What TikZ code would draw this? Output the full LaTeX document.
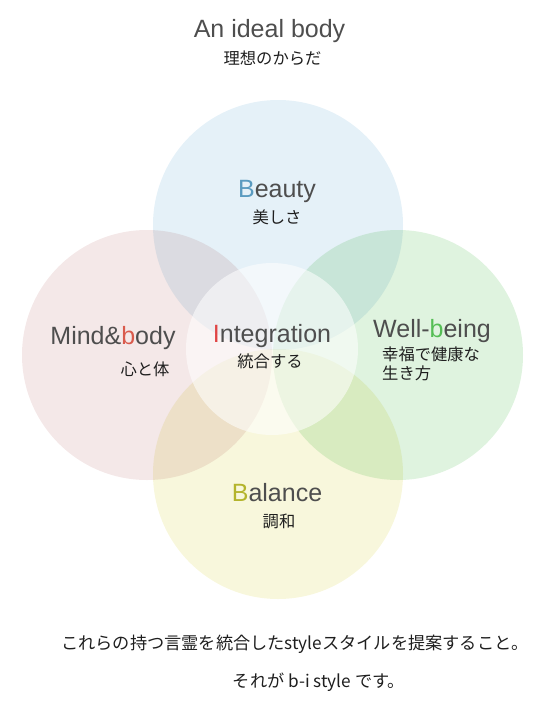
\documentclass[tikz,border=0pt]{standalone}
\usepackage{fontspec}
\setmainfont{Liberation Sans}
\newfontfamily\jpfont{Noto Sans CJK JP}
\usepackage{xcolor}
\usepackage{tikz}
\definecolor{beautyC}{HTML}{E5F1F8}
\definecolor{mindC}{HTML}{F4E8E8}
\definecolor{wellC}{HTML}{DFF3DF}
\definecolor{balC}{HTML}{F8F7DC}
\definecolor{ink}{HTML}{4E4E4E}
\definecolor{jink}{HTML}{1E1E1E}
\definecolor{accBeauty}{HTML}{5A9BC0}
\definecolor{accMind}{HTML}{D95A4C}
\definecolor{accInteg}{HTML}{E04444}
\definecolor{accWell}{HTML}{55BE55}
\definecolor{accBal}{HTML}{B4B42C}
\tikzset{
  petal/.style={blend mode=multiply},
  enlabel/.style={font=\fontsize{25}{30}\selectfont,text=ink,anchor=base,inner sep=0pt},
  jplabel/.style={font=\jpfont\fontsize{16.3}{19}\selectfont,text=jink,inner sep=0pt},
  jpnote/.style={font=\jpfont\fontsize{17.2}{20}\selectfont,text=jink,inner sep=0pt}
}
\newcommand{\petals}{%
  \fill[petal,beautyC] (278,225) circle[radius=125pt];
  \fill[petal,mindC] (147,355) circle[radius=125pt];
  \fill[petal,wellC] (398,355) circle[radius=125pt];
  \fill[petal,balC] (278,474) circle[radius=125pt];
  \fill[white,opacity=.55] (272,349) circle[radius=86pt];
}

\begin{document}
\begin{tikzpicture}[x=1pt,y=-1pt]
\useasboundingbox (0,0) rectangle (543,710);
\petals
\node[enlabel] (title) at (269.5,37) {An ideal body};
\node[jplabel] (titleJp) at (272.5,58) {理想のからだ};
\node[enlabel] (beauty) at (277,197) {{\color{accBeauty}B}eauty};
\node[jplabel] (beautyJp) at (277,217.5) {美しさ};
\node[enlabel] (mind) at (113,344) {Mind\&{\color{accMind}b}ody};
\node[jplabel] (mindJp) at (145,369) {心と体};
\node[enlabel] (integ) at (272,342) {{\color{accInteg}I}ntegration};
\node[jplabel] (integJp) at (270,361) {統合する};
\node[enlabel,anchor=base west] (well) at (373,337) {Well-{\color{accWell}b}eing};
\node[jplabel,align=left,anchor=west] (wellJp) at (382,364) {幸福で健康な\\生き方};
\node[enlabel] (bal) at (277,501) {{\color{accBal}B}alance};
\node[jplabel] (balJp) at (279,521.5) {調和};
\node[jpnote] (noteA) at (295,644.5) {これらの持つ言霊を統合したstyleスタイルを提案すること。};
\node[jpnote] (noteB) at (319,682.5) {それが b-i style です。};
\end{tikzpicture}
\end{document}
